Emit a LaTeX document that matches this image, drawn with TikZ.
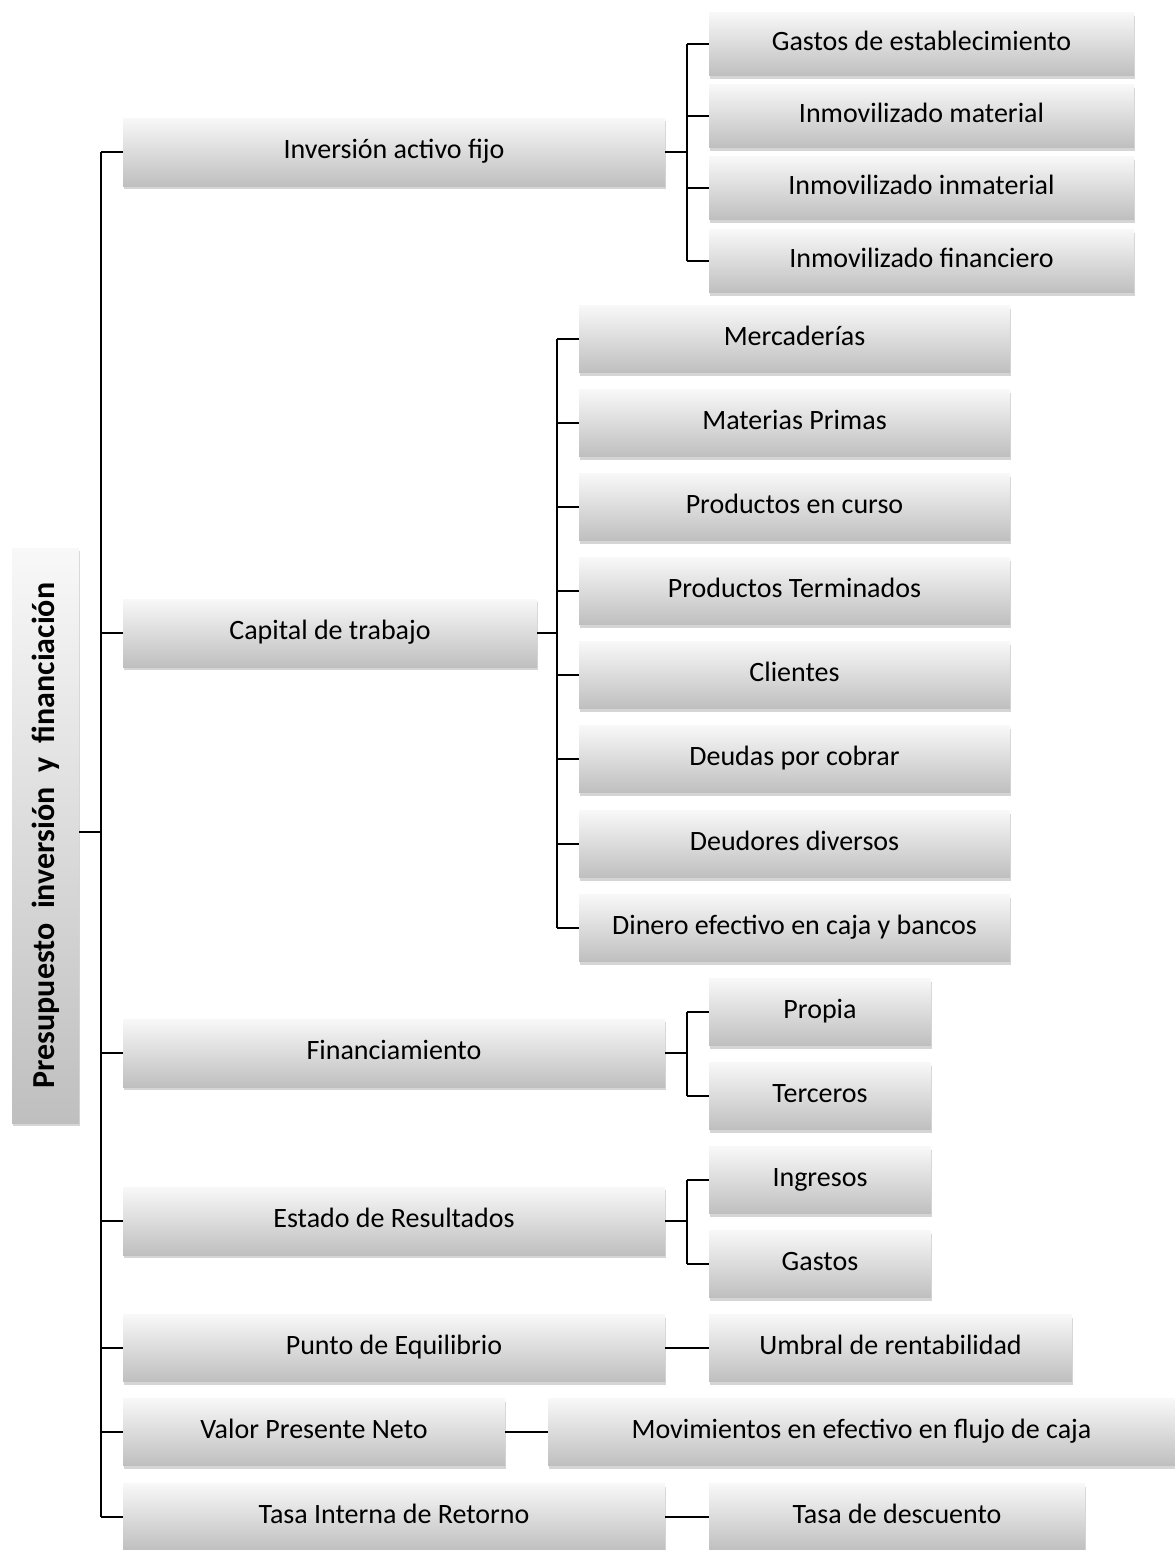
\documentclass[tikz,border=0pt]{standalone}
\usepackage{fontspec}
\setmainfont{Carlito}
\usetikzlibrary{shadows}
\definecolor{boxtop}{HTML}{F8F8F8}
\definecolor{boxbot}{HTML}{BFBFBF}
\tikzset{
  box/.style={rectangle, inner sep=0pt, top color=boxtop, bottom color=boxbot, draw=none,
    drop shadow={shadow xshift=1pt, shadow yshift=-3pt, opacity=0.3, fill=black!55},
    font=\fontsize{28}{32}\selectfont, text height=19pt, text depth=7pt},
  rootbox/.style={box, text height=, text depth=},
  conn/.style={draw=black, line width=1.5pt},
}
\newcommand{\bx}[6]{\node[box, minimum width={#3-#2}, minimum height=#5] (#1) at ({(#2+#3)/2},#4) {#6};}
\begin{document}
\begin{tikzpicture}[x=1pt,y=-1pt]
\useasboundingbox (0,0) rectangle (1175,1550);
% root
\node[rootbox, minimum width=67, minimum height=575] (root) at (45.5,835.5)
  {\rotatebox{90}{\fontsize{32}{36}\selectfont\bfseries Presupuesto\ \ inversión\ \ y\ \ financiación}};
% level 1
\bx{inv}{123}{665}{152}{68}{Inversión activo fijo}
\bx{cap}{123}{537}{633}{68}{Capital de trabajo}
\bx{fin}{123}{665}{1053}{68}{Financiamiento}
\bx{est}{123}{665}{1221}{68}{Estado de Resultados}
\bx{pun}{123}{665}{1348}{67}{Punto de Equilibrio}
\bx{vpn}{123}{505}{1432}{67}{Valor Presente Neto}
\bx{tir}{123}{665}{1517}{67}{Tasa Interna de Retorno}
% inversion children
\bx{i1}{709}{1134}{44}{63}{Gastos de establecimiento}
\bx{i2}{709}{1134}{116}{63}{Inmovilizado material}
\bx{i3}{709}{1134}{188}{63}{Inmovilizado inmaterial}
\bx{i4}{709}{1134}{261}{63}{Inmovilizado financiero}
% capital children
\bx{c1}{579}{1010}{339}{67}{Mercaderías}
\bx{c2}{579}{1010}{423}{67}{Materias Primas}
\bx{c3}{579}{1010}{507}{67}{Productos en curso}
\bx{c4}{579}{1010}{591}{67}{Productos Terminados}
\bx{c5}{579}{1010}{675}{67}{Clientes}
\bx{c6}{579}{1010}{759}{67}{Deudas por cobrar}
\bx{c7}{579}{1010}{844}{67}{Deudores diversos}
\bx{c8}{579}{1010}{928}{67}{Dinero efectivo en caja y bancos}
% financiamiento children
\bx{f1}{709}{931}{1012}{67}{Propia}
\bx{f2}{709}{931}{1096}{67}{Terceros}
% estado children
\bx{e1}{709}{931}{1180}{67}{Ingresos}
\bx{e2}{709}{931}{1264}{67}{Gastos}
% single children
\bx{umb}{709}{1072}{1348}{67}{Umbral de rentabilidad}
\bx{mov}{548}{1175}{1432}{67}{Movimientos en efectivo en flujo de caja}
\bx{tas}{709}{1085}{1517}{67}{Tasa de descuento}
% trunk
\coordinate (t) at (101,832);
\draw[conn] (root.east |- t) -- (t);
\draw[conn] (t |- inv.west) -- (t |- tir.west);
\foreach \n in {inv,cap,fin,est,pun,vpn,tir}{\draw[conn] (t |- \n.west) -- (\n.west);}
% inversion bus
\coordinate (bi) at (687,152);
\draw[conn] (inv.east) -- (bi |- inv.east);
\draw[conn] (bi |- i1.west) -- (bi |- i4.west);
\foreach \n in {i1,i2,i3,i4}{\draw[conn] (bi |- \n.west) -- (\n.west);}
% capital bus
\coordinate (bc) at (557,633);
\draw[conn] (cap.east) -- (bc |- cap.east);
\draw[conn] (bc |- c1.west) -- (bc |- c8.west);
\foreach \n in {c1,c2,c3,c4,c5,c6,c7,c8}{\draw[conn] (bc |- \n.west) -- (\n.west);}
% financiamiento bus
\coordinate (bf) at (687,1053);
\draw[conn] (fin.east) -- (bf |- fin.east);
\draw[conn] (bf |- f1.west) -- (bf |- f2.west);
\foreach \n in {f1,f2}{\draw[conn] (bf |- \n.west) -- (\n.west);}
% estado bus
\coordinate (be) at (687,1221);
\draw[conn] (est.east) -- (be |- est.east);
\draw[conn] (be |- e1.west) -- (be |- e2.west);
\foreach \n in {e1,e2}{\draw[conn] (be |- \n.west) -- (\n.west);}
% direct
\draw[conn] (pun.east) -- (umb.west);
\draw[conn] (vpn.east) -- (mov.west);
\draw[conn] (tir.east) -- (tas.west);
\end{tikzpicture}
\end{document}
